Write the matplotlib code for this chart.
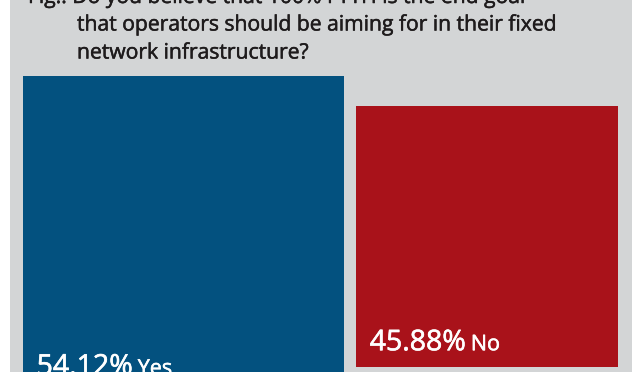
import matplotlib.pyplot as plt
import matplotlib.patheffects as pe
from matplotlib.transforms import offset_copy

# survey answers
answers = ["Yes", "No"]
shares = [54.12, 45.88]
title_lines = [
    "Fig.: Do you believe that 100% FTTH is the end goal",
    "that operators should be aiming for in their fixed",
    "network infrastructure?",
]

BAR_COLORS = ["#03517f", "#a9121a"]
PANEL = "#d3d5d6"
INK = "#1e1b1c"
FONT = "Open Sans"

W, H = 643, 372
fig = plt.figure(figsize=(W / 100, H / 100), dpi=100)
fig.patch.set_facecolor("white")

# grey panel spans px 10..632, bars laid out inside it
ax = fig.add_axes([10 / W, 0, 622 / W, 1])
ax.set_facecolor(PANEL)
ax.set_xlim(-0.5717, 1.4778)
ax.set_ylim(-27.18, 74.99)
for s in ax.spines.values():
    s.set_visible(False)
ax.set_xticks([])
ax.set_yticks([])

widths = [1.058, 0.863]
bottoms = [-30.0, -25.8]
xs = list(range(len(answers)))
heights = [v - b for v, b in zip(shares, bottoms)]
ax.bar(xs, heights, bottom=bottoms, width=widths, color=BAR_COLORS, linewidth=0)


def heavier(color, lw):
    # fake a medium weight with a thin outline in the same colour
    return [pe.withStroke(linewidth=lw, foreground=color)]


# labels near the bottom of each bar
label_y = [-27.9, -21.2]
renderer = fig.canvas.get_renderer()
for x, w, v, name, ly in zip(xs, widths, shares, answers, label_y):
    x0 = x - w / 2 + 0.045
    t = ax.text(x0, ly, f"{v:.2f}%", color="white", fontsize=20.5,
                family=FONT, ha="left", va="baseline",
                path_effects=heavier("white", 0.45))
    ext = t.get_window_extent(renderer=renderer)
    tr = offset_copy(ax.transData, fig=fig, x=ext.width + 5, y=0, units="dots")
    ax.text(x0, ly, name, color="white", fontsize=15.5, family=FONT,
            ha="left", va="baseline", transform=tr,
            path_effects=heavier("white", 0.4))

# title, top line is cut by the crop
ys = [3, 30.5, 58.5]
xs_t = [28, 77, 77]
for line, y, x in zip(title_lines, ys, xs_t):
    fig.text(x / W, 1 - y / H, line, color=INK, fontsize=15.2, family=FONT,
             ha="left", va="baseline", path_effects=heavier(INK, 0.35))

fig.savefig("out.png", dpi=100)
